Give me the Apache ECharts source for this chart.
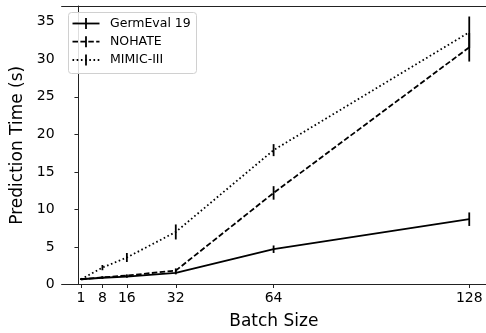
<!DOCTYPE html>
<html>
<head>
<meta charset="utf-8">
<script src="https://cdn.jsdelivr.net/npm/echarts@6/dist/echarts.min.js"></script>
<style>
  html, body { margin: 0; padding: 0; background: #fff; }
  #chart { width: 486px; height: 333px; }
</style>
</head>
<body>
<div id="chart"></div>
<script>
// Batch sizes on the x axis
const batchSizes = [1, 8, 16, 32, 64, 128];
const yTicks = [0, 5, 10, 15, 20, 25, 30, 35];

// Mean prediction time (s) and error (s) per dataset
const germevalTime = [0.7, 0.9, 1.05, 1.55, 4.7, 8.7];
const germevalErr  = [0.1, 0.15, 0.15, 0.2, 0.5, 0.9];
const nohateTime   = [0.7, 0.95, 1.2, 1.85, 12.2, 31.6];
const nohateErr    = [0.1, 0.15, 0.15, 0.3, 0.9, 1.9];
const mimicTime    = [0.7, 2.25, 3.6, 7.0, 17.9, 33.6];
const mimicErr     = [0.1, 0.35, 0.6, 1.0, 0.8, 2.1];

const seriesNames = ['GermEval 19', 'NOHATE', 'MIMIC-III'];
const FONT = 'DejaVu Sans';
const AXIS_COLOR = '#222';

function pairs(ys) { return batchSizes.map((x, i) => [x, ys[i]]); }
function errRows(ys, es) { return batchSizes.map((x, i) => [x, ys[i], es[i]]); }

const lineStyles = [
  { type: 'solid' },
  { type: [5.5, 2.4] },
  { type: [1.6, 2.6] }
];

function lineSeries(name, ys, style) {
  return {
    type: 'line', name: name, data: pairs(ys),
    symbol: 'none', silent: true, animation: false,
    lineStyle: Object.assign({ color: '#000', width: 1.8 }, style), z: 3
  };
}

// Vertical error bars (no caps)
function errSeries(name, ys, es) {
  return {
    type: 'custom', name: name + ' err', data: errRows(ys, es), animation: false, silent: true, z: 4,
    renderItem: function (params, api) {
      const x = api.value(0), y = api.value(1), e = api.value(2);
      const lo = api.coord([x, y - e]);
      const hi = api.coord([x, y + e]);
      return {
        type: 'line',
        shape: { x1: lo[0], y1: lo[1], x2: hi[0], y2: hi[1] },
        style: { stroke: '#000', lineWidth: 1.8 }
      };
    }
  };
}

// Legend box drawn as graphic elements
const legendRows = [23.5, 41.7, 60];
const legendDash = [null, [5.5, 2.4], [1.6, 2.6]];
const legendGraphics = [{
  type: 'rect', shape: { x: 68.5, y: 12.5, width: 128, height: 61, r: 3 },
  style: { fill: 'rgba(255,255,255,0.85)', stroke: '#d0d0d0', lineWidth: 1 }, z: 10
}];
legendRows.forEach((ly, i) => {
  legendGraphics.push({
    type: 'line', shape: { x1: 72.5, y1: ly, x2: 99.5, y2: ly },
    style: { stroke: '#000', lineWidth: 1.8, lineDash: legendDash[i] }, z: 11
  });
  legendGraphics.push({
    type: 'line', shape: { x1: 86, y1: ly - 5.5, x2: 86, y2: ly + 5.5 },
    style: { stroke: '#000', lineWidth: 1.8 }, z: 11
  });
  legendGraphics.push({
    type: 'text', x: 110, y: ly,
    style: { text: seriesNames[i], fill: '#000', font: '12.5px "DejaVu Sans"', textVerticalAlign: 'middle' }, z: 11
  });
});

const X_MIN = -5.35, X_MAX = 133.48;

const chart = echarts.init(document.getElementById('chart'), null, { renderer: 'canvas' });
chart.setOption({
  animation: false,
  backgroundColor: '#fff',
  grid: { left: 61.6, right: 0, top: 6, bottom: 48.5, show: false, containLabel: false, outerBoundsMode: 'none' },
  xAxis: [{
    type: 'value', min: X_MIN, max: X_MAX,
    name: 'Batch Size', nameLocation: 'middle', nameGap: 28.5,
    nameTextStyle: { fontFamily: FONT, fontSize: 17, color: '#000' },
    axisLine: { show: true, lineStyle: { color: AXIS_COLOR, width: 1 } },
    axisTick: { show: true, inside: false, length: 3.5, customValues: batchSizes, lineStyle: { color: AXIS_COLOR } },
    axisLabel: { customValues: batchSizes, margin: 7, fontFamily: FONT, fontSize: 14, color: '#000' },
    splitLine: { show: false }
  }, {
    // top frame line
    type: 'value', position: 'top', min: X_MIN, max: X_MAX,
    axisLine: { show: true, onZero: false, lineStyle: { color: AXIS_COLOR, width: 1 } },
    axisTick: { show: false }, axisLabel: { show: false }, splitLine: { show: false }
  }],
  yAxis: {
    type: 'value', min: 0, max: 37.1,
    name: 'Prediction Time (s)', nameLocation: 'middle', nameGap: 33,
    nameTextStyle: { fontFamily: FONT, fontSize: 17, color: '#000' },
    axisLine: { show: true, lineStyle: { color: AXIS_COLOR, width: 1 } },
    axisTick: { show: true, inside: false, length: 3.5, customValues: yTicks, lineStyle: { color: AXIS_COLOR } },
    axisLabel: { customValues: yTicks, margin: 7, fontFamily: FONT, fontSize: 14, color: '#000' },
    splitLine: { show: false }
  },
  series: [
    lineSeries(seriesNames[0], germevalTime, lineStyles[0]),
    lineSeries(seriesNames[1], nohateTime, lineStyles[1]),
    lineSeries(seriesNames[2], mimicTime, lineStyles[2]),
    errSeries(seriesNames[0], germevalTime, germevalErr),
    errSeries(seriesNames[1], nohateTime, nohateErr),
    errSeries(seriesNames[2], mimicTime, mimicErr)
  ],
  graphic: legendGraphics
});
</script>
</body>
</html>
